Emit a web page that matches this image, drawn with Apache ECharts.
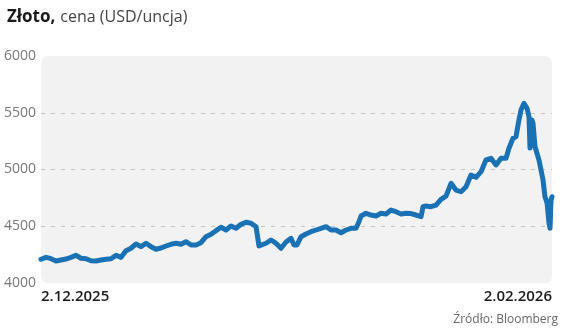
<!DOCTYPE html>
<html><head><meta charset="utf-8">
<script src="https://cdn.jsdelivr.net/npm/echarts@6/dist/echarts.min.js"></script>
<style>html,body{margin:0;padding:0;background:#fff}#c{width:564px;height:334px}</style>
</head><body><div id="c"></div>
<script>
// Day offsets since 2.12.2025
const days = [0,0.61,1.21,1.82,2.43,3.03,3.64,4.25,4.85,5.46,6.07,6.67,7.28,7.89,8.49,9.10,9.71,10.31,10.92,11.53,12.13,12.74,13.35,13.95,14.56,15.17,15.77,16.38,16.99,17.59,18.20,18.81,19.41,20.02,20.63,21.23,21.84,22.45,23.05,23.66,24.27,24.87,25.48,26.09,26.45,26.69,27.30,27.91,28.51,29.12,29.73,30.33,30.70,31.06,31.55,32.15,32.76,33.37,33.97,34.58,35.19,35.79,36.40,37.01,37.61,38.22,38.58,38.83,39.43,40.04,40.65,41.25,41.86,42.47,43.07,43.68,44.29,44.89,45.50,46.11,46.35,46.71,47.32,47.93,48.53,49.14,49.75,50.35,50.96,51.57,52.17,52.78,53.39,53.99,54.60,55.21,55.81,56.42,56.78,57.27,57.63,57.99,58.24,58.60,58.97,59.21,59.33,59.45,59.57,59.69,59.94,60.18,60.42,60.67,60.91,61.15,61.40,61.64,61.76,61.88,62.00];
// Gold price, USD/oz
const prices = [4209,4226,4214,4194,4203,4211,4226,4244,4218,4214,4196,4194,4203,4209,4214,4244,4226,4285,4306,4344,4320,4350,4320,4297,4308,4326,4341,4350,4341,4364,4335,4335,4355,4408,4429,4461,4491,4467,4502,4482,4517,4535,4526,4496,4326,4326,4350,4379,4350,4306,4361,4394,4335,4335,4408,4432,4452,4467,4482,4496,4467,4467,4443,4467,4482,4482,4540,4590,4614,4599,4590,4614,4608,4643,4628,4608,4614,4612,4599,4584,4672,4678,4672,4687,4737,4766,4878,4819,4804,4848,4951,4931,4981,5084,5099,5040,5099,5099,5187,5275,5289,5436,5524,5583,5539,5465,5189,5172,5436,5410,5201,5189,5084,4996,4907,4760,4705,4526,4482,4731,4760];
const xTickValues = [0, 62];
const xTickLabels = ['2.12.2025', '2.02.2026'];
const yTicks = [4000, 4500, 5000, 5500, 6000];

const chart = echarts.init(document.getElementById('c'), null, {renderer: 'canvas'});
const gridL = 41, gridR = 12, gridT = 56, gridB = 51;
chart.setOption({
  animation: false,
  backgroundColor: '#fff',
  title: {
    text: '{b|Złoto,} {r|cena (USD/uncja)}',
    left: 2, top: 3,
    textStyle: {
      rich: {
        b: {fontFamily: 'Open Sans', fontWeight: 'bold', fontSize: 17, color: '#1a1a1a'},
        r: {fontFamily: 'Open Sans', fontWeight: 'normal', fontSize: 16, color: '#444'}
      }
    }
  },
  graphic: [
    {type: 'rect', z: -1, shape: {x: gridL, y: gridT, width: 564 - gridL - gridR, height: 334 - gridT - gridB, r: 7}, style: {fill: '#f2f2f2'}},
    {type: 'text', right: 6, top: 314, style: {text: 'Źródło: Bloomberg', fill: '#666', fontFamily: 'Open Sans', fontSize: 12}}
  ],
  grid: {left: gridL, right: gridR, top: gridT, bottom: gridB, containLabel: false},
  xAxis: {
    type: 'value', min: xTickValues[0], max: xTickValues[1],
    axisLine: {show: false}, axisTick: {show: false}, splitLine: {show: false},
    axisLabel: {
      customValues: xTickValues,
      formatter: v => xTickLabels[xTickValues.indexOf(v)] || '',
      alignMinLabel: 'left', alignMaxLabel: 'right',
      margin: 6, color: '#1a1a1a', fontFamily: 'Open Sans', fontWeight: 600, fontSize: 15
    }
  },
  yAxis: {
    type: 'value', min: yTicks[0], max: yTicks[yTicks.length - 1], interval: 500,
    axisLine: {show: false}, axisTick: {show: false},
    axisLabel: {margin: 5, color: '#777', fontFamily: 'Open Sans', fontSize: 14, formatter: v => String(v)},
    splitLine: {show: true, showMinLine: false, showMaxLine: false, lineStyle: {color: '#c4c4c4', type: [4, 6], width: 1}}
  },
  series: [{
    type: 'line',
    data: days.map((d, i) => [d, prices[i]]),
    showSymbol: false,
    lineStyle: {color: '#1a72b5', width: 5, join: 'round', cap: 'round'},
    clip: false
  }]
});
</script></body></html>
